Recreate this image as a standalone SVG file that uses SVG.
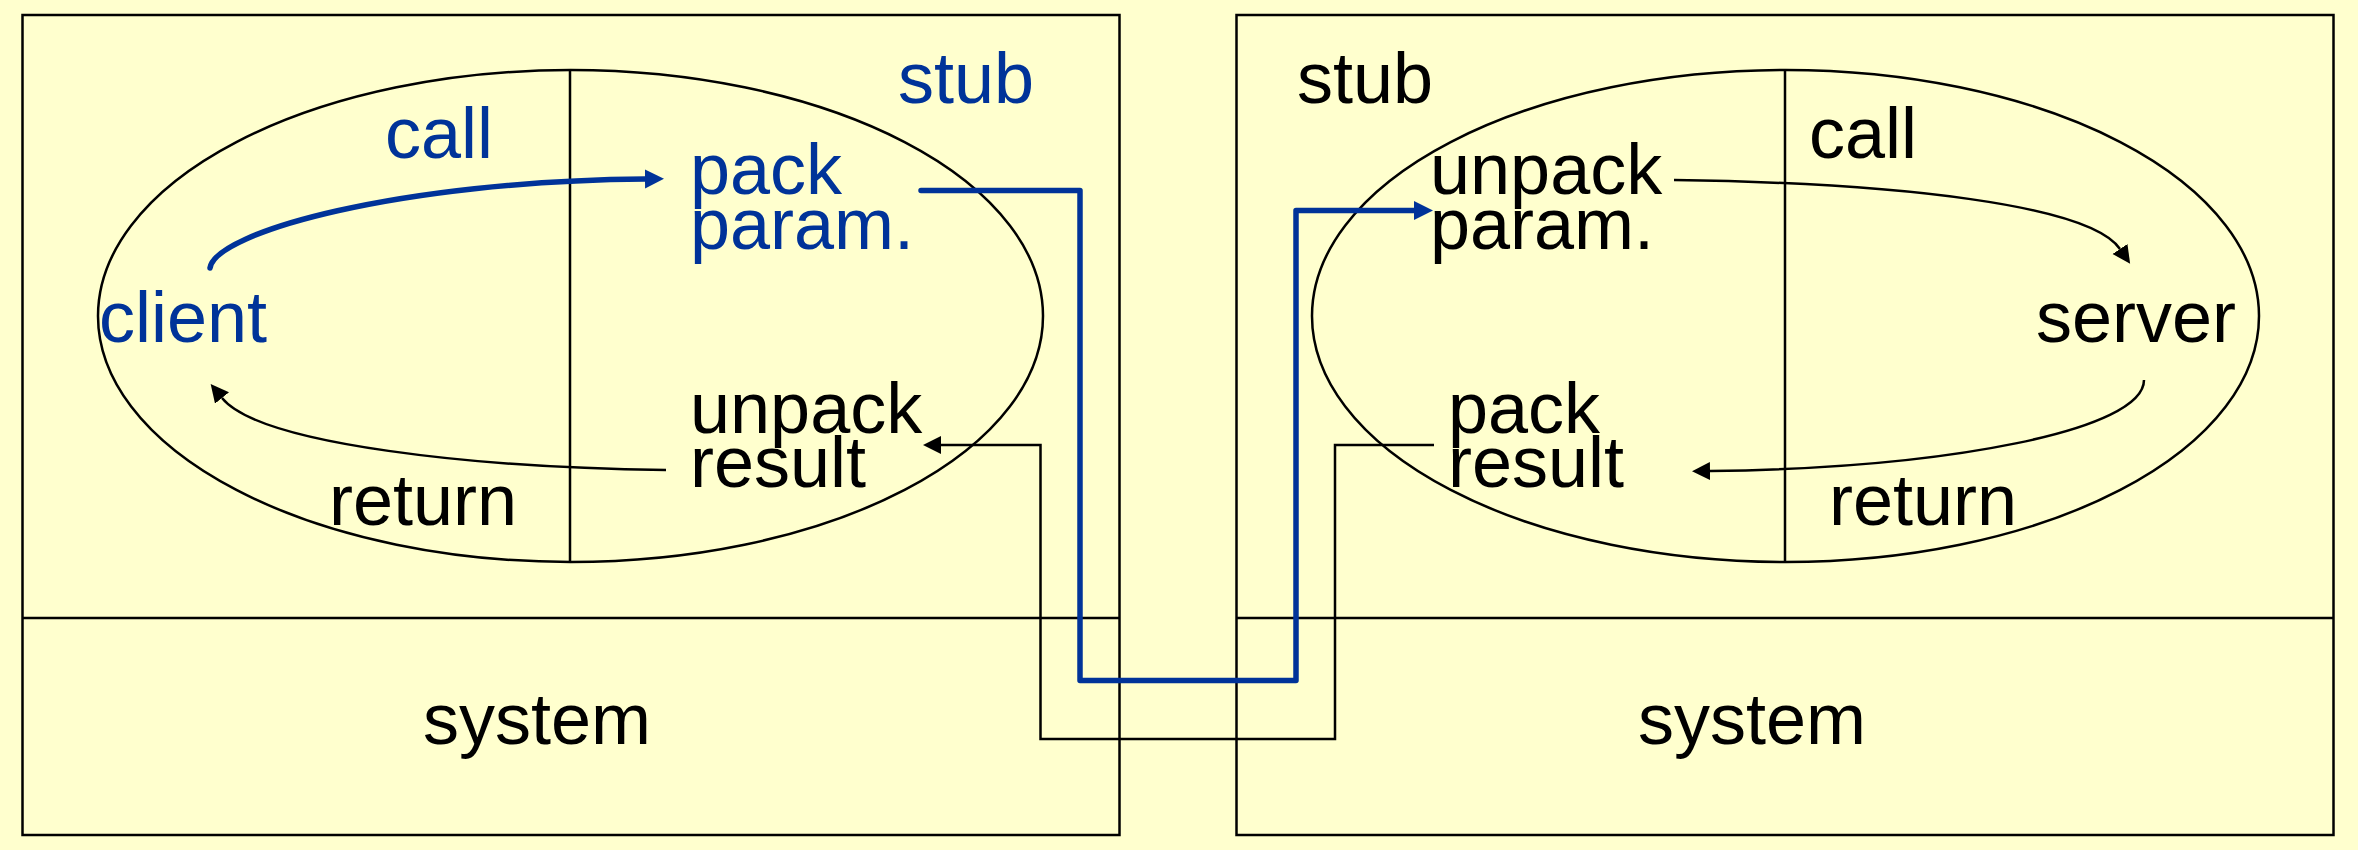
<svg xmlns="http://www.w3.org/2000/svg" width="2358" height="850" viewBox="0 0 2358 850">
  <style>
    .box { fill: #FFFFCE; stroke: #000; stroke-width: 2.5; }
    .div { fill: none; stroke: #000; stroke-width: 2.5; }
    .ell { fill: none; stroke: #000; stroke-width: 2.5; }
    .t { font-family: "Liberation Sans", Arial, sans-serif; font-size: 72px; fill: #000; }
    .b { fill: #003399; }
    .blue { fill: none; stroke: #003399; stroke-width: 5.5; stroke-linejoin: round; stroke-linecap: round; }
    .blk { fill: none; stroke: #000; stroke-width: 2.5; }
  </style>
  <defs>
    <marker id="ab" markerUnits="userSpaceOnUse" markerWidth="20" markerHeight="20" refX="0" refY="9.5" orient="auto" viewBox="0 0 20 20">
      <path d="M0,0 L19,9.5 L0,19 z" fill="#003399"/>
    </marker>
    <marker id="ak" markerUnits="userSpaceOnUse" markerWidth="20" markerHeight="20" refX="0" refY="9" orient="auto" viewBox="0 0 20 20">
      <path d="M0,0 L18,9 L0,18 z" fill="#000"/>
    </marker>
  </defs>
  <rect width="2358" height="850" fill="#FFFFCE"/>

  <g id="client-machine">
    <rect class="box" x="22.5" y="15" width="1097" height="820"/>
    <line class="div" x1="22.5" y1="618" x2="1119.5" y2="618"/>
    <ellipse class="ell" cx="570.5" cy="316" rx="472.5" ry="246"/>
    <line class="div" x1="570" y1="70" x2="570" y2="562"/>
  </g>
  <g id="client-stub-label"><text class="t b" x="898" y="103">stub</text></g>
  <g id="client-call-label"><text class="t b" x="385" y="158">call</text></g>
  <g id="client-pack-param"><text class="t b" x="690" y="194">pack</text><text class="t b" x="690" y="249">param.</text></g>
  <g id="client"><text class="t b" x="99" y="342">client</text></g>
  <g id="client-unpack-result"><text class="t" x="690" y="433">unpack</text><text class="t" x="690" y="487">result</text></g>
  <g id="client-return-label"><text class="t" x="329" y="525">return</text></g>
  <g id="client-system"><text class="t" x="423" y="744">system</text></g>

  <g id="server-machine">
    <rect class="box" x="1236.5" y="15" width="1097" height="820"/>
    <line class="div" x1="1236.5" y1="618" x2="2333.5" y2="618"/>
    <ellipse class="ell" cx="1785.5" cy="316" rx="473.5" ry="246"/>
    <line class="div" x1="1785" y1="70" x2="1785" y2="562"/>
  </g>
  <g id="server-stub-label"><text class="t" x="1297" y="103">stub</text></g>
  <g id="server-call-label"><text class="t" x="1809" y="158">call</text></g>
  <g id="server-unpack-param"><text class="t" x="1430" y="194">unpack</text><text class="t" x="1430" y="249">param.</text></g>
  <g id="server"><text class="t" x="2036" y="342">server</text></g>
  <g id="server-pack-result"><text class="t" x="1448" y="433">pack</text><text class="t" x="1448" y="487">result</text></g>
  <g id="server-return-label"><text class="t" x="1829" y="525">return</text></g>
  <g id="server-system"><text class="t" x="1638" y="744">system</text></g>

  <g id="connectors">
    <path class="blue" d="M210,268 C215,232 400,181 645,179" marker-end="url(#ab)"/>
    <path class="blue" d="M921,190.5 L1080,190.5 L1080,680.5 L1296,680.5 L1296,210.5 L1414,210.5" marker-end="url(#ab)"/>
    <path class="blk" d="M1674,180 C1900,183 2090,205 2120,249" marker-end="url(#ak)"/>
    <path class="blk" d="M2144,380 C2144,430 1950,468 1710,471" marker-end="url(#ak)"/>
    <path class="blk" d="M1434,445 L1335,445 L1335,739 L1040.5,739 L1040.5,445 L941,445" marker-end="url(#ak)"/>
    <path class="blk" d="M666,470 C480,468 260,445 222,398" marker-end="url(#ak)"/>
  </g>
</svg>
